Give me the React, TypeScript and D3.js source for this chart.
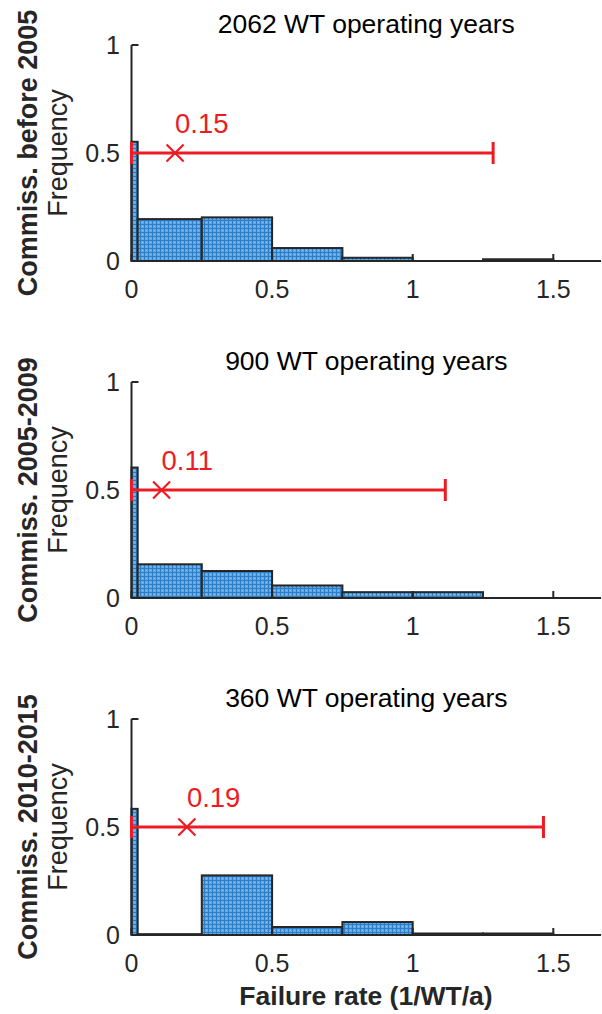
import * as d3 from "d3";

// histogram bins (failure rate, 1/WT/a)
const binEdges = [0, 0.022, 0.25, 0.5, 0.75, 1, 1.25, 1.5];

// relative frequency per bin, one array per commissioning period
const freqBefore2005 = [0.552, 0.194, 0.202, 0.06, 0.015, 0, 0.008];
const freq2005to2009 = [0.604, 0.156, 0.125, 0.058, 0.027, 0.027, 0];
const freq2010to2015 = [0.584, 0.004, 0.276, 0.037, 0.06, 0.007, 0.007];

const titles = [
  "2062 WT operating years",
  "900 WT operating years",
  "360 WT operating years",
];
const groupLabels = [
  "Commiss. before 2005",
  "Commiss. 2005-2009",
  "Commiss. 2010-2015",
];

// mean failure rate and its interval
const meanRates = [0.155, 0.107, 0.197];
const meanLabels = ["0.15", "0.11", "0.19"];
const lowerRates = [0, 0, 0];
const upperRates = [1.286, 1.116, 1.465];

const xTicks = [0, 0.5, 1, 1.5];
const yTicks = [0, 0.5, 1];
const xTickLabels = ["0", "0.5", "1", "1.5"];
const yTickLabels = ["0", "0.5", "1"];

const W = 602;
const H = 1014;
const FONT = "'Liberation Sans', Arial, Helvetica, sans-serif";
const AXIS = "#262626";
const RED = "#ed1c24";

const left = 131.5;
const xMax = 1.67;
const pxPerUnit = 281.2;
const plotH = 216;
const panelGap = 337;
const firstTop = 45;

const x = d3
  .scaleLinear()
  .domain([0, xMax])
  .range([left, left + xMax * pxPerUnit]);

function Panel({ i, freq }: { i: number; freq: number[] }) {
  const top = firstTop + i * panelGap;
  const y = d3.scaleLinear().domain([0, 1]).range([top + plotH, top]);
  const y0 = y(0);
  const cy = y(0.5);
  const midY = (y(0) + y(1)) / 2;
  const midX = (x(0) + x(xMax)) / 2;
  const bins = freq.map((f, k) => ({ x0: binEdges[k], x1: binEdges[k + 1], f }));
  const mx = x(meanRates[i]);
  const m = 8.5;

  return (
    <g>
      <text
        x={midX}
        y={top - 12}
        textAnchor="middle"
        fontSize={26.5}
        fill="#000"
      >
        {titles[i]}
      </text>

      <text
        transform={`translate(37,${midY}) rotate(-90)`}
        textAnchor="middle"
        fontSize={27}
        fontWeight="bold"
        fill={AXIS}
      >
        {groupLabels[i]}
      </text>
      <text
        transform={`translate(67,${midY}) rotate(-90)`}
        textAnchor="middle"
        fontSize={27}
        fill={AXIS}
      >
        Frequency
      </text>

      {bins.map((b, k) => (
        <rect
          key={k}
          x={x(b.x0)}
          y={y(b.f)}
          width={x(b.x1) - x(b.x0)}
          height={y0 - y(b.f)}
          fill="url(#hatch)"
          stroke={AXIS}
          strokeWidth={2}
        />
      ))}

      {/* axes */}
      <line x1={x(0)} x2={x(xMax)} y1={y0} y2={y0} stroke={AXIS} strokeWidth={2} />
      <line x1={x(0)} x2={x(0)} y1={y(1)} y2={y0} stroke={AXIS} strokeWidth={2} />
      {xTicks.map((t, k) => (
        <g key={"xt" + k}>
          <line x1={x(t)} x2={x(t)} y1={y0} y2={y0 - 7} stroke={AXIS} strokeWidth={2} />
          <text
            x={x(t)}
            y={y0 + 37}
            textAnchor="middle"
            fontSize={25}
            fill={AXIS}
          >
            {xTickLabels[k]}
          </text>
        </g>
      ))}
      {yTicks.map((t, k) => (
        <g key={"yt" + k}>
          <line x1={x(0)} x2={x(0) + 7} y1={y(t)} y2={y(t)} stroke={AXIS} strokeWidth={2} />
          <text
            x={120}
            y={y(t)}
            dy="0.36em"
            textAnchor="end"
            fontSize={25}
            fill={AXIS}
          >
            {yTickLabels[k]}
          </text>
        </g>
      ))}

      {/* mean with interval */}
      <line
        x1={x(lowerRates[i])}
        x2={x(upperRates[i])}
        y1={cy}
        y2={cy}
        stroke={RED}
        strokeWidth={3}
      />
      <line x1={x(lowerRates[i])} x2={x(lowerRates[i])} y1={cy - 11} y2={cy + 11} stroke={RED} strokeWidth={3} />
      <line x1={x(upperRates[i])} x2={x(upperRates[i])} y1={cy - 11} y2={cy + 11} stroke={RED} strokeWidth={3} />
      <path
        d={`M${mx - m},${cy - m}L${mx + m},${cy + m}M${mx - m},${cy + m}L${mx + m},${cy - m}`}
        stroke={RED}
        strokeWidth={2.2}
        fill="none"
      />
      <text x={mx} y={cy - 20.5} fontSize={27.5} fill={RED}>
        {meanLabels[i]}
      </text>
    </g>
  );
}

export default function App() {
  const series = [freqBefore2005, freq2005to2009, freq2010to2015];
  return (
    <svg
      width={W}
      height={H}
      style={{ position: "absolute", left: 0, top: 0, background: "#fff" }}
      fontFamily={FONT}
    >
      <defs>
        <pattern id="hatch" width={4} height={4} patternUnits="userSpaceOnUse">
          <rect width={4} height={4} fill="#60a9e6" />
          <rect width={4} height={1} fill="#2d7ec6" />
          <rect width={1} height={4} fill="#2d7ec6" />
          <rect x={2} y={2} width={1} height={1} fill="#8cc3ee" />
        </pattern>
      </defs>
      <rect width={W} height={H} fill="#fff" />
      {series.map((f, i) => (
        <Panel key={i} i={i} freq={f} />
      ))}
      <text
        x={366}
        y={1005}
        textAnchor="middle"
        fontSize={26.5}
        fontWeight="bold"
        fill={AXIS}
      >
        Failure rate (1/WT/a)
      </text>
    </svg>
  );
}
